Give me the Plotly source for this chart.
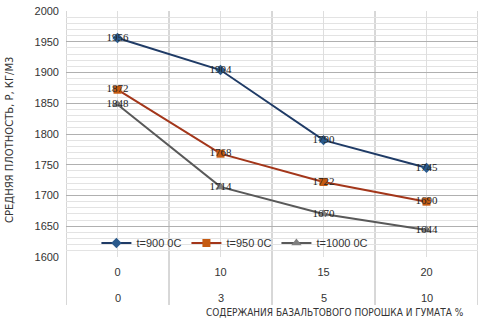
import plotly.graph_objects as go

cats_row1 = ["0", "10", "15", "20"]
cats_row2 = ["0", "3", "5", "10"]
series_names = ["t=900 0C", "t=950 0C", "t=1000 0C"]
vals_900 = [1956, 1904, 1790, 1745]
vals_950 = [1872, 1768, 1722, 1690]
vals_1000 = [1848, 1714, 1670, 1644]
y_title = "СРЕДНЯЯ ПЛОТНОСТЬ, Р, КГ/М3"
x_title = "СОДЕРЖАНИЯ БАЗАЛЬТОВОГО ПОРОШКА И ГУМАТА %"

xs = list(range(len(cats_row1)))
styles = [
    dict(line="#1F3B66", marker="#2A5A8C", symbol="diamond", size=8),
    dict(line="#A3361A", marker="#C55A11", symbol="square", size=8),
    dict(line="#595959", marker="#7F7F7F", symbol="triangle-up", size=9),
]

fig = go.Figure()
for name, vals, st in zip(series_names, [vals_900, vals_950, vals_1000], styles):
    fig.add_trace(go.Scatter(
        x=xs, y=vals, name=name, mode="lines+markers+text",
        line=dict(color=st["line"], width=2),
        marker=dict(color=st["marker"], symbol=st["symbol"], size=st["size"]),
        text=[str(v) for v in vals], textposition="middle center",
        textfont=dict(family="Liberation Serif, serif", size=11, color="#222"),
        cliponaxis=False,
    ))

font_fam = "DejaVu Sans Condensed, Liberation Sans Narrow, Liberation Sans, Arial, sans-serif"
tick_fam = "Liberation Sans, Arial, sans-serif"
n = len(cats_row1)
for b in [i - 0.5 for i in range(n + 1)]:
    fig.add_shape(type="line", xref="x", yref="paper", x0=b, x1=b, y0=-0.195, y1=1,
                  line=dict(color="#B0B0B0", width=1), layer="below")

annots = []
for i, t in enumerate(cats_row2):
    annots.append(dict(x=i, y=-0.165, xref="x", yref="paper", text=t, showarrow=False,
                       font=dict(family=tick_fam, size=11, color="#333"), yanchor="middle"))
annots.append(dict(x=(335 - 66) / 412, y=(257 - 312) / 246, xref="paper", yref="paper",
                   text=x_title, showarrow=False, yanchor="middle",
                   font=dict(family=font_fam, size=10, color="#333")))
annots.append(dict(x=(9 - 66) / 412, y=(257 - 140) / 246, xref="paper", yref="paper",
                   text=y_title, showarrow=False, textangle=-90, xanchor="center", yanchor="middle",
                   font=dict(family="DejaVu Sans, sans-serif", size=10, color="#333")))

fig.update_layout(
    width=484, height=323,
    margin=dict(l=66, r=6, t=11, b=66),
    paper_bgcolor="white", plot_bgcolor="white",
    showlegend=True,
    legend=dict(orientation="h", x=0.41, xanchor="center", y=0.057, yanchor="middle",
                bgcolor="rgba(0,0,0,0)", font=dict(family=tick_fam, size=11, color="#333"),
                itemwidth=30, tracegroupgap=0),
    annotations=annots,
    xaxis=dict(range=[-0.5, n - 0.5], tickmode="array", tickvals=xs, ticktext=cats_row1,
               showgrid=True, gridcolor="#DEDEDE", gridwidth=1, zeroline=False,
               showline=False, ticks="", ticklabelstandoff=7,
               tickfont=dict(family=tick_fam, size=11, color="#333")),
    yaxis=dict(range=[1600, 2000], tickmode="linear", tick0=1600, dtick=50,
               showgrid=True, gridcolor="#B0B0B0", gridwidth=1, zeroline=False,
               showline=False, ticks="", ticklabelstandoff=6, ticklabeloverflow="allow",
               minor=dict(dtick=10, showgrid=True, gridcolor="#E3E3E3", gridwidth=1),
               tickfont=dict(family=tick_fam, size=11, color="#333")),
)

fig.write_html("out.html", config={"displayModeBar": False},
               post_script="document.body.style.margin='0px';")
